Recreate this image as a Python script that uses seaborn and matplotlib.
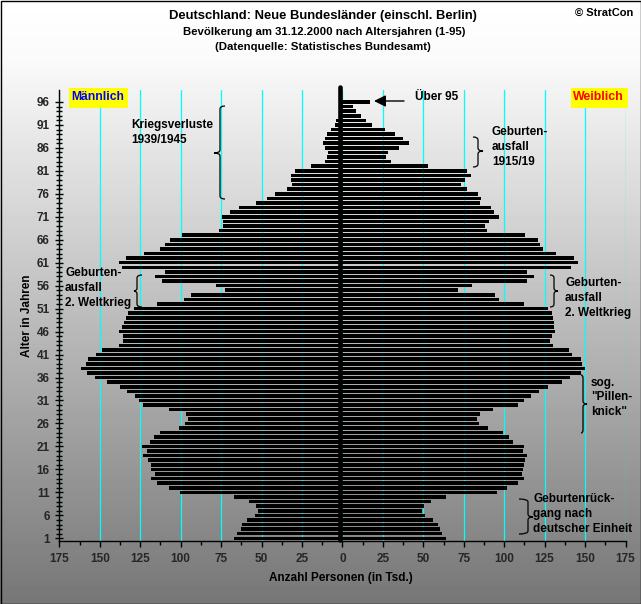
import numpy as np
import pandas as pd
import matplotlib
matplotlib.use("Agg")
import matplotlib.pyplot as plt
from matplotlib.path import Path
from matplotlib.patches import PathPatch, Rectangle
import seaborn as sns

# Altersjahre 96 (= ueber 95) bis 1, Werte in Tsd.
alter = list(range(96, 0, -1))
maenner = [2.0, 1.0, 1.5, 2.0, 3.9, 4.5, 7.0, 9.5, 10.7, 11.9, 10.7, 8.9, 9.5, 10.7, 19.4, 29.3,
           31.7, 31.7, 31.1, 34.2, 41.6, 46.6, 53.4, 63.9, 69.4, 74.4, 73.8, 73.8, 76.2, 99.1, 106.5, 109.6,
           112.7, 122.6, 133.7, 138.0, 136.2, 109.6, 115.8, 111.5, 78.1, 72.5, 93.5, 97.9, 114.5, 128.8,
           132.5, 133.7, 134.9, 136.2, 138.0, 135.6, 135.6, 138.0, 148.5, 152.2, 157.2, 158.4, 161.5, 157.8,
           152.9, 145.4, 137.4, 133.1, 128.1, 125.7, 123.2, 107.1, 96.6, 95.4, 97.2, 100.9, 112.7, 116.4,
           118.9, 123.8, 120.7, 123.2, 120.1, 118.3, 118.3, 115.8, 118.3, 114.5, 107.1, 100.3,
           67.0, 57.7, 53.4, 52.1, 54.0, 58.9, 62.0, 62.6, 65.1, 67.0]
frauen = [17.1, 6.6, 8.4, 11.5, 14.6, 18.3, 26.4, 32.6, 37.5, 41.2, 35.0, 28.2, 27.0, 30.1, 52.9, 77.0,
          79.5, 75.8, 73.3, 77.0, 83.8, 85.7, 85.1, 91.9, 93.7, 96.8, 90.6, 88.2, 89.4, 112.9, 120.9, 122.2,
          124.0, 132.1, 143.2, 145.7, 141.3, 114.1, 118.5, 114.1, 80.1, 71.5, 94.4, 96.8, 112.3, 127.1,
          129.6, 130.2, 130.8, 130.8, 131.4, 129.6, 128.3, 130.2, 140.1, 141.9, 147.5, 148.1, 150.0, 147.5,
          140.7, 135.8, 127.1, 121.5, 116.6, 112.3, 108.6, 93.1, 85.1, 83.2, 84.5, 90.0, 99.3, 103.0,
          105.5, 112.3, 111.7, 114.1, 112.9, 112.3, 111.7, 111.0, 112.3, 108.6, 101.8, 95.6,
          64.1, 54.8, 50.5, 49.2, 51.1, 56.0, 59.1, 60.3, 61.6, 64.1]

x_ticks = [-175, -150, -125, -100, -75, -50, -25, 0, 25, 50, 75, 100, 125, 150, 175]
y_labels = [1, 6, 11, 16, 21, 26, 31, 36, 41, 46, 51, 56, 61, 66, 71, 76, 81, 86, 91, 96]

W, H = 641, 604

sns.set_style("white")
plt.rcParams["font.family"] = ["Liberation Sans", "DejaVu Sans"]
plt.rcParams["font.weight"] = "bold"

fig = plt.figure(figsize=(W / 100, H / 100), dpi=100)

# Hintergrund: senkrechter Verlauf
bg = fig.add_axes([0, 0, 1, 1], zorder=0)
bg.imshow(np.interp(np.arange(H), [0, 60, 604], [255, 250, 118])[:, None], cmap="gray",
          vmin=0, vmax=255, aspect="auto", extent=(0, W, H, 0))
bg.set_xlim(0, W)
bg.set_ylim(H, 0)
bg.axis("off")

ax = fig.add_axes([59.3 / W, 1 - 540.5 / H, 566.2 / W, 450.5 / H], zorder=1)
ax.patch.set_alpha(0)

df = pd.DataFrame({
    "alter": alter * 2,
    "anzahl": [-v for v in maenner] + frauen,
    "geschlecht": ["m"] * len(alter) + ["w"] * len(alter),
})
sns.barplot(data=df, x="anzahl", y="alter", hue="geschlecht", orient="h", native_scale=True,
            dodge=False, palette=["black", "black"], width=0.78, linewidth=0, legend=False, ax=ax)

ax.set_xlim(-175, 175)
ax.set_ylim(0.52, 98.6)
ax.set_axisbelow(True)
ax.grid(axis="x", color="#00ffff", lw=0.9)
ax.grid(axis="y", visible=False)
for side in ["top", "right"]:
    ax.spines[side].set_visible(False)
for side in ["left", "bottom"]:
    ax.spines[side].set_color("black")
    ax.spines[side].set_linewidth(1)

ax.set_xticks(x_ticks)
ax.set_xticklabels([str(abs(t)) for t in x_ticks], fontsize=8.5)
ax.set_xticks(np.arange(-162.5, 175, 25), minor=True)
ax.set_yticks(y_labels)
ax.set_yticklabels([str(a) for a in y_labels], fontsize=8.5)
ax.set_yticks(alter, minor=True)
ax.tick_params(axis="x", which="major", direction="out", length=4, width=1, color="black", pad=5, bottom=True)
ax.tick_params(axis="x", which="minor", direction="out", length=3, width=1, color="black", bottom=True)
ax.tick_params(axis="y", which="major", direction="inout", length=6, width=1, color="black", pad=4, left=True)
ax.tick_params(axis="y", which="minor", direction="inout", length=4, width=1, color="black", left=True)
ax.set_xlabel("")
ax.set_ylabel("")

# dicke Mittelachse
ax.plot([-1.4, -1.4], [0.6, 99.2], color="black", lw=3.3, solid_capstyle="round", clip_on=False, zorder=5)

# zweite Ebene ueber den Balken fuer Anmerkungen
over = fig.add_axes([0, 0, 1, 1], zorder=2)
over.set_xlim(0, W)
over.set_ylim(H, 0)
over.axis("off")
over.add_patch(Rectangle((0.5, 0.5), W - 1, H - 1, fc="none", ec="black", lw=1))


def note(x, y, s, **kw):
    kw.setdefault("fontsize", 8.5)
    kw.setdefault("ha", "left")
    kw.setdefault("va", "center")
    over.text(x, y, s, color=kw.pop("color", "black"), **kw)


def brace(x, y0, y1, tip, end, ymid):
    # geschweifte Klammer: x = Senkrechte, tip = Spitze, end = Enden
    r = 3
    verts = [(end, y0), (x, y0), (x, y0 + r), (x, ymid - r), (x, ymid), (tip, ymid),
             (x, ymid), (x, ymid + r), (x, y1 - r), (x, y1), (end, y1)]
    codes = [Path.MOVETO, Path.CURVE3, Path.CURVE3, Path.LINETO, Path.CURVE3, Path.CURVE3,
             Path.CURVE3, Path.CURVE3, Path.LINETO, Path.CURVE3, Path.CURVE3]
    over.add_patch(PathPatch(Path(verts, codes), fc="none", ec="black", lw=0.9))


note(323, 16, "Deutschland: Neue Bundesländer (einschl. Berlin)", ha="center", fontsize=9.4)
note(324, 32, "Bevölkerung am 31.12.2000 nach Altersjahren (1-95)", ha="center", fontsize=8.2)
note(323, 47, "(Datenquelle: Statistisches Bundesamt)", ha="center", fontsize=8.2)
note(575, 13, "© StratCon", fontsize=8)

note(27, 316, "Alter in Jahren", rotation=90, ha="center", fontsize=8.5)
note(341, 577.5, "Anzahl Personen (in Tsd.)", ha="center", fontsize=8.5)

over.add_patch(Rectangle((69, 88), 59, 20, fc="#ffff00", ec="none"))
over.add_patch(Rectangle((571, 88), 57, 20, fc="#ffff00", ec="none"))
note(98, 97, "Männlich", ha="center", color="#0000ff", fontsize=8.7)
note(598, 97, "Weiblich", ha="center", color="#ff0000", fontsize=8.9)

for y, s in zip([125, 140], ["Kriegsverluste", "1939/1945"]):
    note(131.5, y, s)
for y, s in zip([273, 288, 303], ["Geburten-", "ausfall", "2. Weltkrieg"]):
    note(65, y, s)
for y, s in zip([132, 147, 162], ["Geburten-", "ausfall", "1915/19"]):
    note(492, y, s)
for y, s in zip([283, 298, 313], ["Geburten-", "ausfall", "2. Weltkrieg"]):
    note(565, y, s)
for y, s in zip([383, 397, 412], ["sog.", '"Pillen-', 'knick"']):
    note(591, y, s)
for y, s in zip([499, 514, 529], ["Geburtenrück-", "gang nach", "deutscher Einheit"]):
    note(533, y, s)
note(415, 97, "Über 95")

brace(220, 106, 199, 214, 225, 153)
brace(137, 275, 307, 134, 142, 291)
brace(478, 137, 167, 483, 473, 151)
brace(554, 275, 307, 558, 550, 291)
brace(583, 375, 433, 587, 581, 404)
brace(528, 499, 534, 533, 519, 517)

over.annotate("", xy=(374, 101), xytext=(404, 101),
              arrowprops=dict(arrowstyle="-|>,head_length=0.7,head_width=0.35", color="black", lw=1, shrinkA=0, shrinkB=0))

fig.savefig("out.png", dpi=100)
